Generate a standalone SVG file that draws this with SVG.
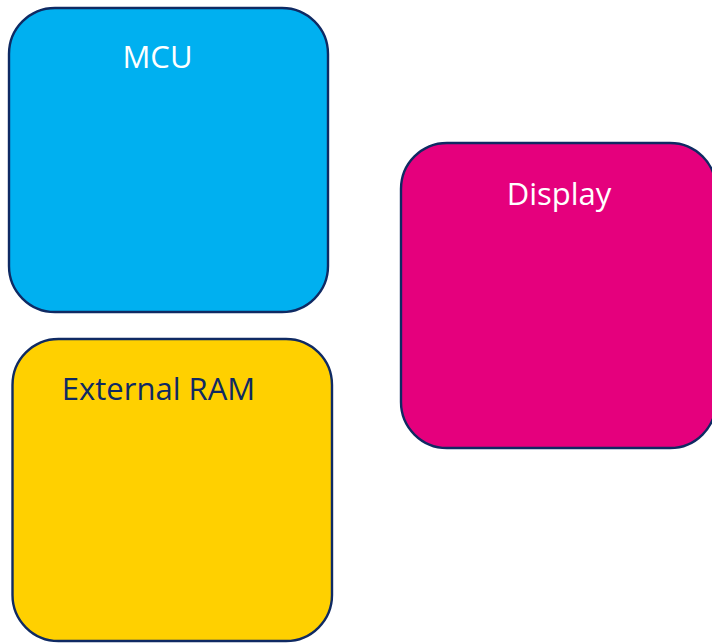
<svg xmlns="http://www.w3.org/2000/svg" width="712" height="643" viewBox="0 0 712 643">
  <style>
    .box { stroke: #0f2a63; stroke-width: 2.4; }
    .label { font-family: "Open Sans", "Liberation Sans", sans-serif; font-size: 31px; text-anchor: middle; }
  </style>
  <rect width="712" height="643" fill="#ffffff"/>
  <g id="mcu">
    <rect class="box" x="9" y="8" width="319" height="304" rx="46" ry="46" fill="#00b0f0"/>
    <text class="label" x="157.5" y="67.5" fill="#ffffff">MCU</text>
  </g>
  <g id="display">
    <rect class="box" x="401" y="143" width="315" height="305" rx="46" ry="46" fill="#e5007d"/>
    <text class="label" x="559" y="204.5" fill="#ffffff">Display</text>
  </g>
  <g id="external-ram">
    <rect class="box" x="12.5" y="339" width="319.5" height="302" rx="46" ry="46" fill="#ffd000"/>
    <text class="label" x="158.5" y="399.5" fill="#0f2a63">External RAM</text>
  </g>
  <g id="connectors"/>
</svg>
